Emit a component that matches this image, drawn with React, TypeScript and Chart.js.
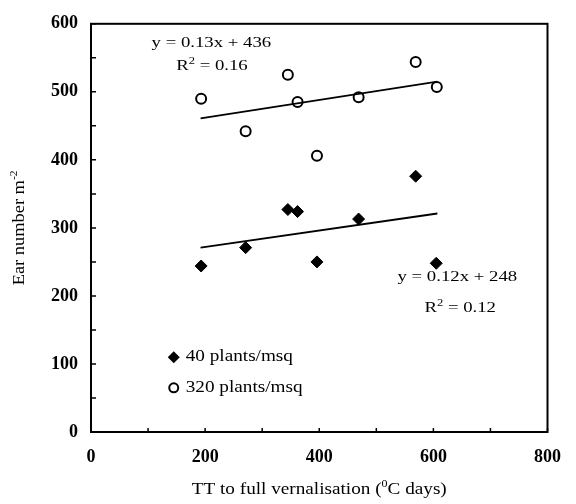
import React, { useEffect, useRef } from 'react';
import { Chart, registerables } from 'chart.js';

Chart.register(...registerables);

// ---- data ----
const ttLow = [193, 271, 345, 362, 396, 469, 569, 605];
const earsLow = [244, 271, 327, 324, 250, 313, 376, 248];
const ttHigh = [193, 271, 345, 362, 396, 469, 569, 606];
const earsHigh = [490, 442, 525, 485, 406, 492, 544, 507];
const trendLowX = [192, 607];
const trendLowY = [271, 321];
const trendHighX = [192, 607];
const trendHighY = [461, 515];
const xTickMarks = [0, 100, 200, 300, 400, 500, 600, 700, 800];
const yTickMarks = [0, 50, 100, 150, 200, 250, 300, 350, 400, 450, 500, 550, 600];
const seriesLabels = ['40 plants/msq', '320 plants/msq'];
const eqHigh = ['y = 0.13x + 436', '0.16'];
const eqLow = ['y = 0.12x + 248', '0.12'];

const FONT = '"Liberation Serif", "Times New Roman", serif';

type Part = { t: string; sup?: boolean };

function drawRich(
  ctx: CanvasRenderingContext2D,
  parts: Part[],
  x: number,
  y: number,
  size: number,
  align: 'left' | 'center',
  sx: number,
  rotate = 0
) {
  const nf = `${size}px ${FONT}`;
  const sf = `${Math.round(size * 0.65)}px ${FONT}`;
  let w = 0;
  for (const p of parts) {
    ctx.font = p.sup ? sf : nf;
    w += ctx.measureText(p.t).width;
  }
  ctx.save();
  ctx.translate(x, y);
  if (rotate) ctx.rotate(rotate);
  ctx.scale(sx, 1);
  let cx = align === 'center' ? -w / 2 : 0;
  ctx.fillStyle = '#000';
  ctx.textBaseline = 'middle';
  ctx.textAlign = 'left';
  for (const p of parts) {
    ctx.font = p.sup ? sf : nf;
    ctx.fillText(p.t, cx, p.sup ? -size * 0.33 : 0);
    cx += ctx.measureText(p.t).width;
  }
  ctx.restore();
}

const deco = {
  id: 'deco',
  afterDraw(chart: any) {
    const { ctx, chartArea: a } = chart;
    const xs = chart.scales.x;
    const ys = chart.scales.y;
    ctx.save();
    ctx.strokeStyle = '#000';
    ctx.lineWidth = 2;
    ctx.strokeRect(a.left, a.top, a.right - a.left, a.bottom - a.top);
    ctx.lineWidth = 1.5;
    ctx.beginPath();
    for (const v of xTickMarks) {
      const px = xs.getPixelForValue(v);
      ctx.moveTo(px, a.bottom);
      ctx.lineTo(px, a.bottom - 4);
    }
    for (const v of yTickMarks) {
      const py = ys.getPixelForValue(v);
      ctx.moveTo(a.left, py);
      ctx.lineTo(a.left + 5, py);
    }
    ctx.stroke();

    const P = (vx: number, vy: number) => [xs.getPixelForValue(vx), ys.getPixelForValue(vy)];

    // regression equations
    let [px, py] = P(211, 572);
    drawRich(ctx, [{ t: eqHigh[0] }], px, py, 15, 'center', 1.25);
    [px, py] = P(212, 538);
    drawRich(ctx, [{ t: 'R' }, { t: '2', sup: true }, { t: ' = ' + eqHigh[1] }], px, py, 15, 'center', 1.25);
    [px, py] = P(642, 228);
    drawRich(ctx, [{ t: eqLow[0] }], px, py, 15, 'center', 1.25);
    [px, py] = P(647, 182);
    drawRich(ctx, [{ t: 'R' }, { t: '2', sup: true }, { t: ' = ' + eqLow[1] }], px, py, 15, 'center', 1.25);

    // legend
    let [lx, ly] = P(145, 110);
    ctx.fillStyle = '#000';
    ctx.beginPath();
    ctx.moveTo(lx - 6, ly);
    ctx.lineTo(lx, ly - 6);
    ctx.lineTo(lx + 6, ly);
    ctx.lineTo(lx, ly + 6);
    ctx.closePath();
    ctx.fill();
    drawRich(ctx, [{ t: seriesLabels[0] }], lx + 12, ly, 16, 'left', 1.2);
    [lx, ly] = P(145, 65);
    ctx.beginPath();
    ctx.arc(lx, ly, 4.5, 0, Math.PI * 2);
    ctx.fillStyle = '#fff';
    ctx.fill();
    ctx.lineWidth = 2;
    ctx.strokeStyle = '#000';
    ctx.stroke();
    drawRich(ctx, [{ t: seriesLabels[1] }], lx + 12, ly, 16, 'left', 1.2);

    // axis titles
    drawRich(
      ctx,
      [{ t: 'TT to full vernalisation (' }, { t: '0', sup: true }, { t: 'C days)' }],
      (a.left + a.right) / 2,
      490,
      16,
      'center',
      1.2
    );
    drawRich(
      ctx,
      [{ t: 'Ear number m' }, { t: '-2', sup: true }],
      20,
      (a.top + a.bottom) / 2,
      16,
      'center',
      1.15,
      -Math.PI / 2
    );
    ctx.restore();
  },
};

export default function App() {
  const ref = useRef<HTMLCanvasElement>(null);
  useEffect(() => {
    if (!ref.current) return;
    const tickFont = { family: FONT, size: 18, weight: 'bold' as const };
    const chart = new Chart(ref.current, {
      type: 'scatter',
      data: {
        datasets: [
          {
            label: seriesLabels[0],
            data: ttLow.map((x, i) => ({ x, y: earsLow[i] })),
            pointStyle: 'rectRot',
            pointRadius: 6,
            pointBackgroundColor: '#000',
            pointBorderColor: '#000',
            pointBorderWidth: 1,
            showLine: false,
          },
          {
            label: seriesLabels[1],
            data: ttHigh.map((x, i) => ({ x, y: earsHigh[i] })),
            pointStyle: 'circle',
            pointRadius: 5,
            pointBackgroundColor: 'rgba(255,255,255,0)',
            pointBorderColor: '#000',
            pointBorderWidth: 2,
            showLine: false,
          },
          {
            label: 'trend low',
            data: trendLowX.map((x, i) => ({ x, y: trendLowY[i] })),
            showLine: true,
            borderColor: '#000',
            borderWidth: 2,
            pointRadius: 0,
          },
          {
            label: 'trend high',
            data: trendHighX.map((x, i) => ({ x, y: trendHighY[i] })),
            showLine: true,
            borderColor: '#000',
            borderWidth: 2,
            pointRadius: 0,
          },
        ],
      },
      options: {
        responsive: false,
        animation: false,
        layout: { padding: { top: 19, right: 18, left: 0, bottom: 0 } },
        plugins: { legend: { display: false }, tooltip: { enabled: false } },
        scales: {
          x: {
            type: 'linear',
            min: 0,
            max: 800,
            ticks: { stepSize: 200, font: tickFont, color: '#000', padding: 15 },
            grid: { display: false, drawTicks: false },
            border: { display: true, color: '#000', width: 2 },
            afterFit: (s: any) => {
              s.height = 72;
            },
          },
          y: {
            type: 'linear',
            min: 0,
            max: 600,
            ticks: { stepSize: 100, font: tickFont, color: '#000', padding: 13 },
            grid: { display: false, drawTicks: false },
            border: { display: true, color: '#000', width: 2 },
            afterFit: (s: any) => {
              s.width = 91;
            },
          },
        },
      },
      plugins: [deco],
    });
    return () => chart.destroy();
  }, []);
  return (
    <div style={{ position: 'fixed', left: 0, top: 0, width: 576, height: 504, background: '#fff' }}>
      <canvas ref={ref} width={576} height={504} style={{ width: 576, height: 504 }} />
    </div>
  );
}
